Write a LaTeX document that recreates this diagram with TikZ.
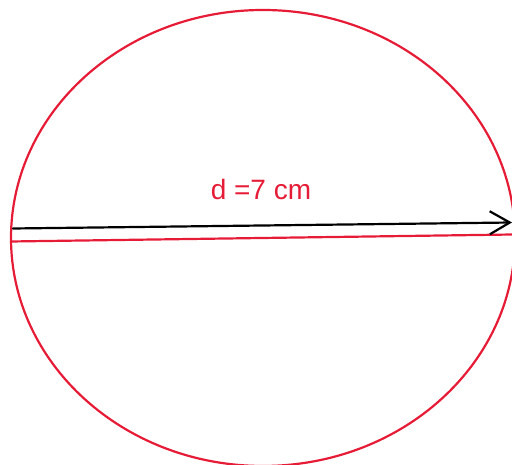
\documentclass[tikz,border=0pt]{standalone}
\usepackage{fontspec}
\setmainfont{Liberation Sans}
\usetikzlibrary{arrows.meta}
\definecolor{dred}{RGB}{230,28,55}
\begin{document}
\begin{tikzpicture}[line join=round,line cap=round,x=1pt,y=1pt,>={Straight Barb[length=20pt,width=23pt]}]
	\useasboundingbox (0,0) rectangle (512,465);
	\draw[dred,line width=2.2pt] (263,227) ellipse[x radius=252pt,y radius=228pt];
	\coordinate (L) at (11,223.5); \coordinate (R) at (513,230.5);
	\draw[dred,line width=2.2pt](L)--(R);
	\coordinate (P) at (13,236.5); \coordinate (Q) at (512,242.5);
	\draw[->,line width=2.2pt](P)--(Q);
	\node[dred,font=\fontsize{28}{32}\selectfont] (d) at (261,276) {d =7 cm};
\end{tikzpicture}
\end{document}
